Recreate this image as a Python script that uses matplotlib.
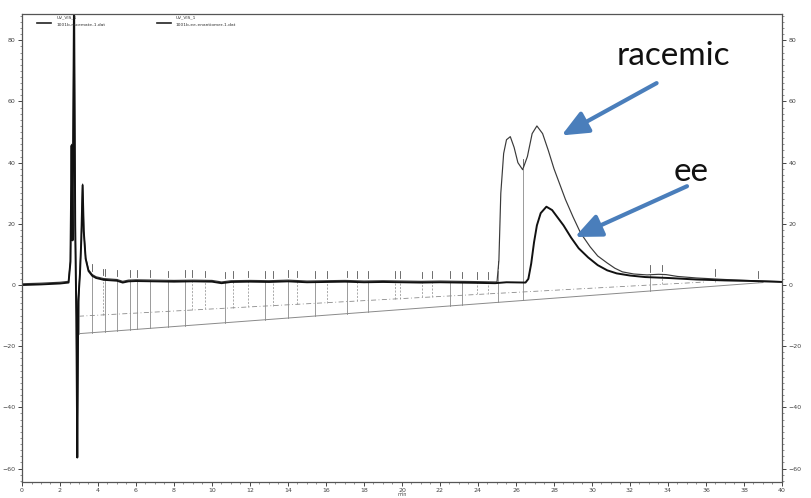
import numpy as np
import matplotlib
matplotlib.use("Agg")
import matplotlib.pyplot as plt
from matplotlib.ticker import MultipleLocator

# ---- chromatogram data (time in min, signal in mAU) ----
early_t = [0.0, 1.0, 2.0, 2.45, 2.55, 2.61, 2.66, 2.74, 2.80, 2.86, 2.91, 2.96,
           3.05, 3.12, 3.19, 3.25, 3.35, 3.5, 3.7, 3.9, 4.3, 5.0, 5.3, 5.6, 6.0,
           7.0, 8.0, 9.0, 10.0, 10.5, 11.0, 12.0, 13.0, 14.0, 15.0, 16.0, 17.0,
           18.0, 19.0, 20.0, 21.0, 22.0, 23.0, 24.0, 24.9]
early_v = [0.4, 0.6, 0.9, 1.2, 8.0, 46.0, 15.0, 95.0, 20.0, -10.0, -56.0, -5.0,
           4.0, 15.0, 33.0, 18.0, 9.0, 5.0, 3.4, 2.7, 2.1, 1.8, 1.2, 1.6, 1.7,
           1.6, 1.5, 1.6, 1.5, 1.0, 1.4, 1.5, 1.4, 1.6, 1.3, 1.4, 1.5, 1.3,
           1.4, 1.3, 1.2, 1.3, 1.2, 1.1, 1.0]

racemic_tail_t = [25.0, 25.1, 25.2, 25.35, 25.5, 25.7, 25.9, 26.1, 26.35, 26.6,
                  26.85, 27.1, 27.4, 27.7, 28.0, 28.3, 28.6, 29.0, 29.4, 29.9,
                  30.3, 30.8, 31.2, 31.6, 32.2, 32.9, 33.5, 33.9, 34.5, 35.5,
                  37.0, 38.5, 40.0]
racemic_tail_v = [1.0, 8.0, 30.0, 43.0, 47.5, 48.5, 45.0, 40.0, 37.7, 42.0,
                  49.5, 52.0, 49.5, 44.0, 38.0, 33.0, 28.0, 22.3, 17.0, 12.5,
                  9.5, 7.2, 5.5, 4.3, 3.6, 3.3, 3.5, 3.4, 2.8, 2.3,
                  1.8, 1.4, 1.1]

ee_tail_t = [25.5, 26.5, 26.65, 26.8, 26.95, 27.1, 27.3, 27.6, 27.9, 28.2, 28.5,
             28.9, 29.3, 29.8, 30.3, 30.8, 31.3, 32.0, 32.8, 34.0, 35.5, 37.0,
             38.5, 40.0]
ee_tail_v = [0.9, 0.8, 2.0, 7.0, 14.0, 19.5, 23.5, 25.6, 24.5, 22.0, 19.5,
             15.5, 12.0, 9.0, 6.5, 4.8, 3.8, 3.1, 2.6, 2.3, 1.8, 1.5,
             1.3, 1.0]

racemic_t = early_t + racemic_tail_t
racemic_v = early_v + racemic_tail_v
ee_t = early_t + ee_tail_t
ee_v = [v - 0.4 for v in early_v] + ee_tail_v

# integration baselines (start/end points)
base_a_t = [3.0, 39.0]
base_a_v = [-15.9, 0.8]
base_b_t = [3.0, 36.0]
base_b_v = [-10.2, 1.0]

# peak drop lines
drops_a = [3.0, 3.68, 4.37, 5.0, 5.68, 6.05, 6.74, 7.68, 8.58, 10.68, 12.79,
           14.0, 15.42, 17.1, 18.2, 22.53, 23.16, 25.05, 26.37, 33.05]
drops_b = [4.26, 8.95, 9.63, 11.1, 11.9, 13.2, 14.47, 16.05, 17.63, 19.63,
           19.89, 21.05, 21.58, 23.95, 24.53, 33.68, 36.47, 38.74]

legend_names = [("UV_VIS_1", "1001b-racemate-1.dat"),
                ("UV_VIS_1", "1001b-ee-enantiomer-1.dat")]

x_ticks = list(range(0, 41, 2))
y_ticks = [-60, -40, -20, 0, 20, 40, 60, 80]

# ---- figure ----
fig = plt.figure(figsize=(8.12, 4.98), dpi=100)
ax = fig.add_axes([22 / 812, 1 - 482 / 498, 760 / 812, 468 / 498])
ax.set_xlim(0, 40)
ax.set_ylim(-64.4, 88.6)

gray = "#8a8a8a"
ax.plot(base_a_t, base_a_v, color=gray, lw=0.7)
ax.plot(base_b_t, base_b_v, color=gray, lw=0.6, ls=(0, (6, 3, 1, 3)))

for t in drops_a:
    top = np.interp(t, racemic_t, racemic_v)
    bot = np.interp(t, base_a_t, base_a_v)
    ax.plot([t, t], [bot, top], color=gray, lw=0.6)
    ax.plot([t, t], [top + 1.0, top + 3.2], color="#555555", lw=0.6)
for t in drops_b:
    top = np.interp(t, racemic_t, racemic_v)
    bot = np.interp(t, base_b_t, base_b_v)
    ax.plot([t, t], [bot, top], color=gray, lw=0.5, ls=(0, (3, 2)))
    ax.plot([t, t], [top + 1.0, top + 3.2], color="#555555", lw=0.6)

ax.plot(racemic_t, racemic_v, color="#3a3a3a", lw=0.85)
ax.plot(ee_t, ee_v, color="#111111", lw=1.4)

# legend block
for i, (l1, l2) in enumerate(legend_names):
    x0 = 0.8 + i * 6.3
    ax.plot([x0, x0 + 0.75], [85.8, 85.8], color="#222222", lw=1.2)
    ax.text(x0 + 1.0, 87.4, l1, fontsize=3.2, color="#333333", va="center")
    ax.text(x0 + 1.0, 85.0, l2, fontsize=3.2, color="#333333", va="center")

# axes styling
for side in ["left", "right", "bottom", "top"]:
    ax.spines[side].set_color("#555555")
    ax.spines[side].set_linewidth(0.9)
ax.set_xticks(x_ticks)
ax.set_yticks(y_ticks)
ax.xaxis.set_minor_locator(MultipleLocator(0.5))
ax.yaxis.set_minor_locator(MultipleLocator(2))
ax.tick_params(axis="both", which="major", labelsize=4.5, length=3, width=0.7,
               colors="#444444", pad=1.5)
ax.tick_params(axis="both", which="minor", length=1.5, width=0.5, colors="#666666")
ax.tick_params(axis="y", which="both", right=True, labelright=True)
ax.tick_params(axis="x", which="both", top=False)
ax.text(20.0, -68.6, "min", fontsize=3.5, color="#444444", ha="center",
        va="center", clip_on=False)

# annotations
blue = "#4a7ebb"
ax.text(34.3, 75.0, "racemic", fontsize=24, family="Lato", color="#111111",
        ha="center", va="center")
ax.text(35.2, 37.0, "ee", fontsize=24, family="Lato", color="#111111",
        ha="center", va="center")
arrow = dict(arrowstyle="-|>,head_length=0.8,head_width=0.35", lw=3,
             color=blue, mutation_scale=20, shrinkA=0, shrinkB=0)
ax.annotate("", xy=(28.4, 48.9), xytext=(33.4, 66.0), arrowprops=arrow)
ax.annotate("", xy=(29.1, 15.7), xytext=(35.0, 32.3), arrowprops=arrow)

fig.savefig("out.png", dpi=100)
